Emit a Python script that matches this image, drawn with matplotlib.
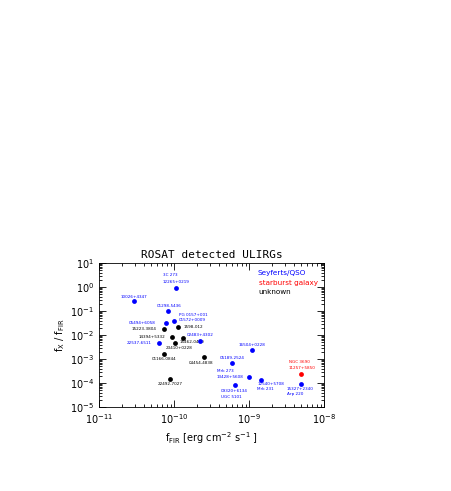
import numpy as np
import matplotlib
matplotlib.use("Agg")
import matplotlib.pyplot as plt
from matplotlib.ticker import LogLocator, NullFormatter

# data
names = ["3C 273\n12265+0219", "10026+4347", "01298-5436", "PG 0157+001\n01572+0009",
         "05494+6058", "15223-3804", "1598-012", "14394+5332", "22537-6511",
         "15462-0450", "23410+0228", "02483+4302", "16504+0228", "01166-0844",
         "04454-4838", "22492-7027", "05189-2524", "Mrk 273\n13428+5608",
         "12540+5708\nMrk 231", "09320+6134\nUGC 5101", "NGC 3690\n11257+5850",
         "15327+2340\nArp 220"]
f_fir = [1.06e-10, 2.9e-11, 8.4e-11, 1.0e-10, 7.7e-11, 7.3e-11, 1.13e-10, 9.4e-11,
         6.3e-11, 1.33e-10, 1.02e-10, 2.2e-10, 1.1e-9, 7.4e-11, 2.5e-10, 8.9e-11,
         5.9e-10, 1.0e-9, 1.46e-9, 6.4e-10, 4.9e-9, 4.9e-9]
ratio = [0.93, 0.26, 0.10, 0.04, 0.032, 0.018, 0.0215, 0.0083, 0.0048, 0.0073,
         0.0048, 0.0055, 0.0024, 0.0016, 0.0012, 1.5e-4, 6.8e-4, 1.8e-4, 1.4e-4,
         8.0e-5, 2.5e-4, 8.9e-5]
kind = ["sy", "sy", "sy", "sy", "sy", "un", "un", "un", "sy", "un", "un", "sy", "sy",
        "un", "un", "un", "sy", "sy", "sy", "sy", "sb", "sy"]

colors = {"sy": "blue", "sb": "red", "un": "black"}

# label layout: dx, dy (pixels, up positive, centre of first line), ha, line step
label_pos = [(-13, 13, "left", 7), (0, 4, "center", 6), (1, 5, "center", 6), (5, 6, "left", 5),
             (-10, 0, "right", 6), (-7, 0, "right", 6), (6, 0, "left", 6), (-7, 0, "right", 6),
             (-7, 0, "right", 6), (-4, -4, "left", 6), (4, -5, "center", 6), (0, 6, "center", 6),
             (0, 5, "center", 6), (0, -5, "center", 6), (-3, -6, "center", 6), (0, -5, "center", 6),
             (0, 5, "center", 6), (-32, 6, "left", 6), (-4, -4, "left", 5), (-14, -6, "left", 6),
             (-12, 12, "left", 6), (-14, -5, "left", 5)]

px = 72 / 100.0

fig = plt.figure(figsize=(4.52, 4.91), dpi=100)
ax = fig.add_axes([0.219, 0.171, 0.498, 0.293])

for i in range(len(names)):
    c = colors[kind[i]]
    ax.scatter(f_fir[i], ratio[i], s=12, color=c, zorder=3, linewidths=0)
    dx, dy, ha, step = label_pos[i]
    for j, line in enumerate(names[i].split("\n")):
        ax.annotate(line, (f_fir[i], ratio[i]), xytext=(dx * px, (dy - j * step) * px),
                    textcoords="offset points", ha=ha, va="center", fontsize=3,
                    color=c)

ax.set_xscale("log")
ax.set_yscale("log")
ax.set_xlim(1e-11, 1e-8)
ax.set_ylim(1e-5, 10)
for axis in (ax.xaxis, ax.yaxis):
    axis.set_major_locator(LogLocator(base=10, numticks=20))
    axis.set_minor_locator(LogLocator(base=10, subs=range(2, 10), numticks=20))
    axis.set_minor_formatter(NullFormatter())
ax.tick_params(which="both", direction="in", top=True, right=True, labelsize=7, width=0.6)
ax.tick_params(which="major", length=5)
ax.tick_params(which="minor", length=2.5)
for s in ax.spines.values():
    s.set_linewidth(0.6)

ax.set_title("ROSAT detected ULIRGs", fontsize=8, family="DejaVu Sans Mono", pad=4)
ax.set_xlabel(r"f$_{\rm FIR}$ [erg cm$^{-2}$ s$^{-1}$ ]", fontsize=7, labelpad=3)
ax.set_ylabel(r"f$_{\rm X}$ / f$_{\rm FIR}$", fontsize=7, labelpad=2)

ax.text(0.705, 0.935, "Seyferts/QSO", transform=ax.transAxes, color="blue", fontsize=5.2, va="center")
ax.text(0.71, 0.865, "starburst galaxy", transform=ax.transAxes, color="red", fontsize=5.2, va="center")
ax.text(0.71, 0.80, "unknown", transform=ax.transAxes, color="black", fontsize=5.2, va="center")

fig.savefig("out.png", dpi=100)
